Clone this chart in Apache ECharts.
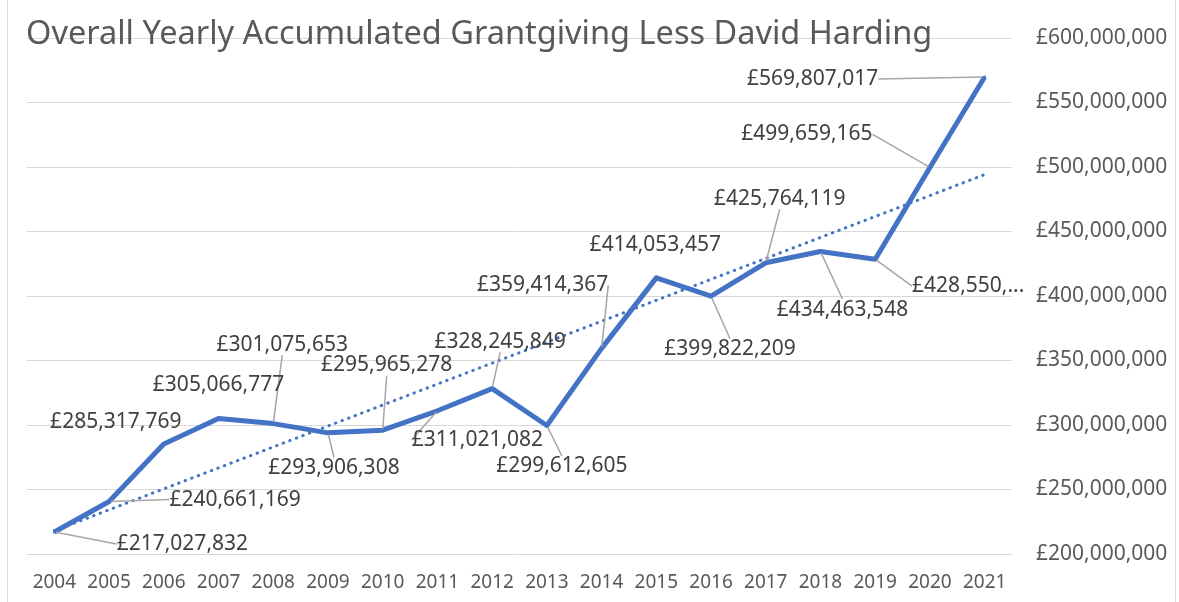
<!DOCTYPE html>
<html>
<head>
<meta charset="utf-8">
<script src="https://cdn.jsdelivr.net/npm/echarts@6/dist/echarts.min.js"></script>
<style>
  html, body { margin: 0; padding: 0; background: #ffffff; }
  #chart { width: 1179px; height: 602px; }
</style>
</head>
<body>
<div id="chart"></div>
<script>
// Accumulated yearly grant-giving (GBP), excluding David Harding
const years = ['2004','2005','2006','2007','2008','2009','2010','2011','2012',
               '2013','2014','2015','2016','2017','2018','2019','2020','2021'];
const totals = [217027832, 240661169, 285317769, 305066777, 301075653, 293906308,
                295965278, 311021082, 328245849, 299612605, 359414367, 414053457,
                399822209, 425764119, 434463548, 428550000, 499659165, 569807017];
const yTicks = { min: 200000000, max: 600000000, step: 50000000 };
// Label whose text is cut short because it runs into the axis
const clippedYear = '2019';

// Label placement relative to each point: [dx, dy, leader line]
const labelOffsets = [
  [128, 12, true], [126, -2, true], [-48, -22, false], [0, -33, false],
  [9, -79, true], [6, 35, true], [4, -65, true], [40, 29, true],
  [8, -47, true], [15, 41, true], [-59, -63, true], [-1, -33, false],
  [19, 53, true], [14, -64, true], [22, 58, true], [93, 27, true],
  [-123, -33, true], [-172, 2, true]
];

function money(v) {
  const s = Math.round(v).toString();
  return '£' + s.replace(/\B(?=(\d{3})+(?!\d))/g, ',');
}

// Linear (least-squares) trend over the series
function linearTrend(values) {
  const n = values.length;
  const xm = (n - 1) / 2;
  const ym = values.reduce((a, b) => a + b, 0) / n;
  let sxy = 0, sxx = 0;
  values.forEach((v, i) => { sxy += (i - xm) * (v - ym); sxx += (i - xm) * (i - xm); });
  const slope = sxy / sxx;
  return values.map((_, i) => ym + slope * (i - xm));
}

const BLUE = '#4472C4';
const FONT = 'Noto Sans';

const seriesData = totals.map((v, i) => ({
  value: v,
  labelLine: { show: labelOffsets[i][2] }
}));

const chart = echarts.init(document.getElementById('chart'), null, { renderer: 'canvas' });
chart.setOption({
  animation: false,
  backgroundColor: '#ffffff',
  title: {
    text: 'Overall Yearly Accumulated Grantgiving Less David Harding',
    left: 21, top: 13,
    textStyle: { fontFamily: FONT, fontSize: 32.5, fontWeight: 'normal', color: '#595959' }
  },
  graphic: [{
    type: 'rect', silent: true, z: -10,
    shape: { x: 7.5, y: -2, width: 1168, height: 606 },
    style: { fill: 'none', stroke: '#d9d9d9', lineWidth: 1 }
  }],
  grid: { left: 27, right: 167, top: 38, bottom: 48 },
  xAxis: {
    type: 'category',
    data: years,
    boundaryGap: true,
    axisLine: { show: false },
    axisTick: { show: false },
    axisLabel: { fontFamily: FONT, fontSize: 19, color: '#595959', margin: 19, interval: 0 }
  },
  yAxis: {
    type: 'value',
    position: 'right',
    min: yTicks.min, max: yTicks.max, interval: yTicks.step,
    axisLine: { show: false },
    axisTick: { show: false },
    splitLine: { lineStyle: { color: '#d9d9d9', width: 1 } },
    axisLabel: {
      fontFamily: FONT, fontSize: 21, color: '#595959', margin: 24,
      formatter: v => money(v)
    }
  },
  series: [
    {
      name: 'Trend',
      type: 'line',
      data: linearTrend(totals),
      symbol: 'none',
      z: 2,
      silent: true,
      lineStyle: { color: BLUE, width: 3, type: [0.5, 6.5], cap: 'round' }
    },
    {
      name: 'Accumulated grant-giving',
      type: 'line',
      data: seriesData,
      z: 3,
      symbol: 'circle',
      symbolSize: 3,
      showSymbol: true,
      itemStyle: { color: BLUE },
      lineStyle: { color: BLUE, width: 5, join: 'round' },
      label: {
        show: true,
        position: 'inside',
        fontFamily: FONT,
        fontSize: 21,
        color: '#404040',
        formatter: p => {
          const t = money(p.value);
          return p.name === clippedYear ? t.slice(0, 8) + ',...' : t;
        }
      },
      labelLine: {
        show: true,
        lineStyle: { color: '#a6a6a6', width: 1.5 }
      },
      labelLayout: p => ({
        dx: labelOffsets[p.dataIndex][0],
        dy: labelOffsets[p.dataIndex][1]
      })
    }
  ]
});
</script>
</body>
</html>
